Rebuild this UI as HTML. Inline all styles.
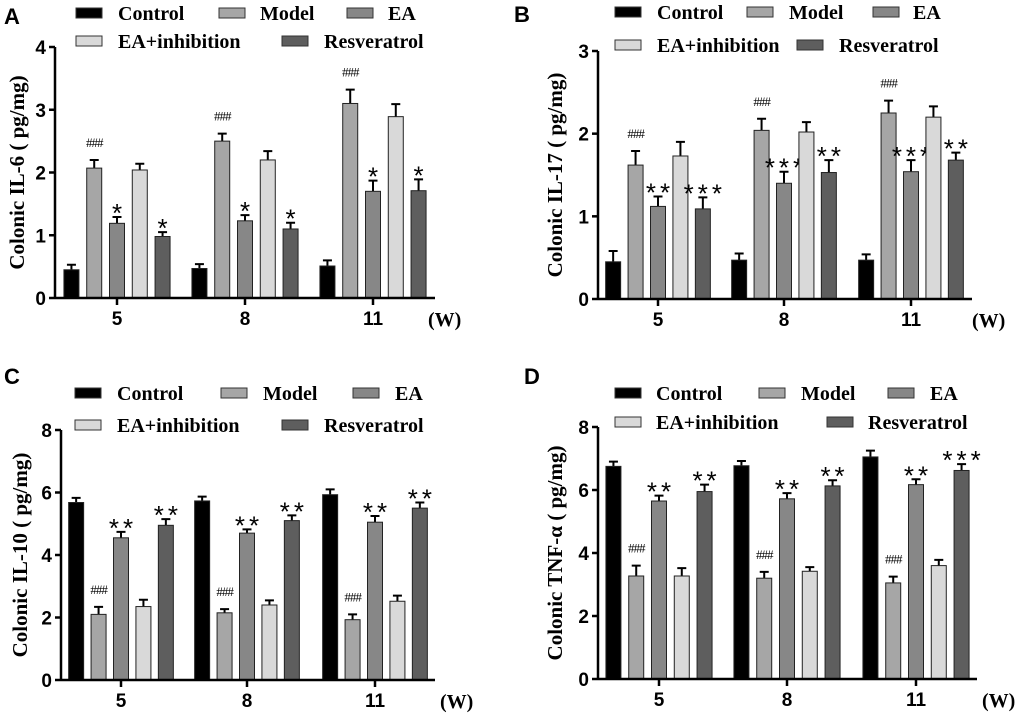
<!DOCTYPE html>
<html><head><meta charset="utf-8">
<style>
html,body{margin:0;padding:0;background:#fff;}
svg{display:block;}
.tk{font:bold 19px "Liberation Sans",sans-serif;}
.lg{font:bold 20px "Liberation Serif",serif;}
.yt{font:bold 21px "Liberation Serif",serif;}
.pl{font:bold 22px "Liberation Sans",sans-serif;}
.sig{font:26px "Liberation Sans",sans-serif;}
.hash{font:13px "Liberation Serif",serif;}
</style></head>
<body>
<svg id="fig" width="1020" height="715" viewBox="0 0 1020 715" xmlns="http://www.w3.org/2000/svg"></svg>
<script>
const weeks = ["5","8","11"];
const groups = ["Control","Model","EA","EA+inhibition","Resveratrol"];
const colors = ["#000000","#a6a6a6","#878787","#d9d9d9","#5e5e5e"];

const aVals = [[0.45,0.47,0.51],[2.07,2.5,3.1],[1.19,1.23,1.7],[2.04,2.2,2.89],[0.98,1.1,1.71]];
const aErr  = [[0.08,0.07,0.09],[0.13,0.12,0.22],[0.1,0.09,0.17],[0.1,0.14,0.2],[0.07,0.1,0.18]];
const aSigEA = ["*","*","*"];
const aSigRes = ["*","*","*"];
const aTicks = [0,1,2,3,4];

const bVals = [[0.45,0.47,0.47],[1.62,2.04,2.25],[1.12,1.4,1.54],[1.73,2.02,2.2],[1.09,1.53,1.68]];
const bErr  = [[0.13,0.08,0.07],[0.17,0.14,0.15],[0.12,0.14,0.14],[0.17,0.12,0.13],[0.14,0.15,0.09]];
const bSigEA = ["**","***","***"];
const bSigRes = ["***","**","**"];
const bTicks = [0,1,2,3];

const cVals = [[5.68,5.73,5.93],[2.1,2.15,1.93],[4.55,4.7,5.05],[2.35,2.4,2.52],[4.95,5.1,5.5]];
const cErr  = [[0.15,0.14,0.17],[0.24,0.12,0.17],[0.19,0.12,0.2],[0.22,0.15,0.18],[0.2,0.17,0.18]];
const cSigEA = ["**","**","**"];
const cSigRes = ["**","**","**"];
const cTicks = [0,2,4,6,8];

const dVals = [[6.75,6.77,7.05],[3.27,3.2,3.05],[5.65,5.72,6.17],[3.27,3.42,3.6],[5.95,6.13,6.62]];
const dErr  = [[0.15,0.15,0.2],[0.33,0.2,0.2],[0.17,0.18,0.17],[0.25,0.13,0.18],[0.22,0.18,0.2]];
const dSigEA = ["**","**","**"];
const dSigRes = ["**","**","***"];
const dTicks = [0,2,4,6,8];

const NS="http://www.w3.org/2000/svg";
const svg=document.getElementById('fig');
function mk(tag,attrs,parent,text){const e=document.createElementNS(NS,tag);for(const k in attrs)e.setAttribute(k,attrs[k]);if(text!==undefined)e.textContent=text;(parent||svg).appendChild(e);return e;}

function panel(cfg){
  const g=mk('g',{});
  
  
  const ymax=cfg.ticks[cfg.ticks.length-1];
  const y=v=>cfg.y0-(v/ymax)*(cfg.y0-cfg.yTop);
  const spacing=cfg.xt[1]-cfg.xt[0];
  const step=spacing*0.178, bw=15;
  const pl=mk('text',{x:cfg.px,y:cfg.py,class:'pl'},g,cfg.letter);
  
  
  cfg.leg.forEach((L,i)=>{
    const r=mk('rect',{x:L[0],y:L[2]-5,width:26,height:10,fill:colors[i],stroke:'#333','stroke-width':1},g);
    
    
    const t=mk('text',{x:L[1],y:L[2]+7,class:'lg'},g,groups[i]);
    
    
  });
  for(let s=0;s<5;s++){
    for(let w=0;w<3;w++){
      const cx=cfg.xt[w]+(s-2)*step;
      const v=cfg.vals[s][w], e=cfg.err[s][w];
      const et=y(v+e);
      const eb=mk('path',{d:`M${cx} ${y(v)}V${et}M${cx-4.5} ${et}H${cx+4.5}`,stroke:'#000','stroke-width':2,fill:'none'},g);
      
      
      const b=mk('rect',{x:cx-bw/2,y:y(v),width:bw,height:cfg.y0-y(v),fill:colors[s],stroke:'#222','stroke-width':1},g);
      
      
      if(s===1){
        const t=mk('text',{x:cx,y:et-13,'text-anchor':'middle',class:'hash','letter-spacing':'-1'},g,'###');
        
        
      } else if(s===2||s===4){
        const lab=s===2?cfg.sigEA[w]:cfg.sigRes[w];
        const t=mk('text',{x:cx+2,y:et+5,'text-anchor':'middle',class:'sig','letter-spacing':'4'},g,lab);
        
        
      }
    }
  }
  const ya=mk('path',{d:`M${cfg.ax} ${cfg.yTop}V${cfg.y0}`,stroke:'#000','stroke-width':2.5},g);
  
  
  const xa=mk('path',{d:`M${cfg.ax} ${cfg.y0}H${cfg.xEnd}`,stroke:'#000','stroke-width':2.5},g);
  
  
  cfg.ticks.forEach(t=>{
    mk('path',{d:`M${cfg.ax-6} ${y(t)}H${cfg.ax}`,stroke:'#000','stroke-width':2.5},g);
    const tl=mk('text',{x:cfg.ax-9,y:y(t)+7,'text-anchor':'end',class:'tk'},g,String(t));
    
    
  });
  weeks.forEach((wk,i)=>{
    mk('path',{d:`M${cfg.xt[i]} ${cfg.y0}V${cfg.y0+7}`,stroke:'#000','stroke-width':2.5},g);
    const tl=mk('text',{x:cfg.xt[i],y:cfg.y0+27,'text-anchor':'middle',class:'tk'},g,wk);
    
    
  });
  const wu=mk('text',{x:cfg.wx,y:cfg.y0+28,class:'lg'},g,'(W)');
  
  
  const yt=mk('text',{x:0,y:0,'text-anchor':'middle',class:'yt',transform:`translate(${cfg.ytx},${(cfg.yTop+cfg.y0)/2}) rotate(-90)`},g,cfg.title);
  
  
}

panel({letter:'A',px:4,py:24,vals:aVals,err:aErr,sigEA:aSigEA,sigRes:aSigRes,ticks:aTicks,
  ax:55,yTop:47,y0:298,xEnd:435,xt:[117,245,373],wx:428,ytx:24,
  title:'Colonic IL-6 ( pg/mg)',
  leg:[[76,118,13],[219,260,13],[347,388,13],[76,118,41],[282,324,41]]});
panel({letter:'B',px:514,py:22,vals:bVals,err:bErr,sigEA:bSigEA,sigRes:bSigRes,ticks:bTicks,
  ax:598,yTop:51,y0:299,xEnd:972,xt:[658,784,911],wx:972,ytx:562,
  title:'Colonic IL-17 ( pg/mg)',
  leg:[[615,657,12],[747,789,12],[873,913,12],[615,657,45],[797,839,45]]});
panel({letter:'C',px:4,py:384,vals:cVals,err:cErr,sigEA:cSigEA,sigRes:cSigRes,ticks:cTicks,
  ax:61,yTop:430,y0:680,xEnd:435,xt:[121,247,375],wx:440,ytx:27,
  title:'Colonic IL-10 ( pg/mg)',
  leg:[[75,117,393],[221,263,393],[353,395,393],[75,117,425],[282,324,425]]});
panel({letter:'D',px:524,py:384,vals:dVals,err:dErr,sigEA:dSigEA,sigRes:dSigRes,ticks:dTicks,
  ax:598,yTop:427,y0:679,xEnd:977,xt:[659,787,916],wx:982,ytx:562,
  title:'Colonic TNF-α ( pg/mg)',
  leg:[[615,656,393],[759,801,393],[888,930,393],[615,656,422],[827,868,422]]});
</script>
</body></html>
